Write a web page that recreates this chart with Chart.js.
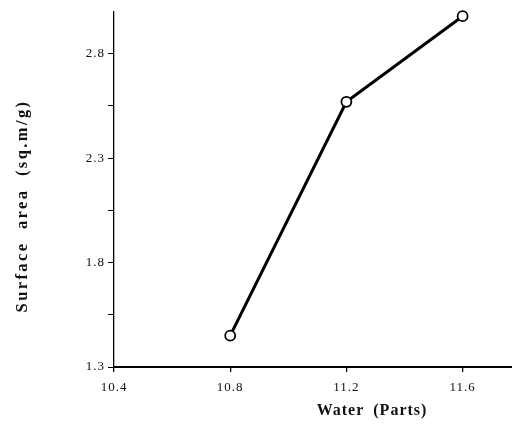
<!DOCTYPE html>
<html><head><meta charset="utf-8">
<script src="https://cdn.jsdelivr.net/npm/chart.js@4"></script>
<style>html,body{margin:0;padding:0;background:#fff}#wrap{width:512px;height:424px;position:relative}</style>
</head><body><div id="wrap"><canvas id="c"></canvas></div>
<script>
const waterParts = [10.8, 11.2, 11.6];
const surfaceArea = [1.45, 2.57, 2.98];
const xTickValues = [10.4, 10.8, 11.2, 11.6];
const yTickValues = [1.3, 1.8, 2.3, 2.8];
const yMinorTickValues = [1.55, 2.05, 2.55];
const xTitle = 'Water (Parts)';
const yTitle = 'Surface area (sq.m/g)';

const points = waterParts.map((x, i) => ({x: x, y: surfaceArea[i]}));
const serif = '"Liberation Serif", "DejaVu Serif", serif';

const titlePlugin = {
  id: 'axisTitles',
  beforeDraw(chart) {
    chart.ctx.letterSpacing = '1px';
  },
  afterDraw(chart) {
    const ctx = chart.ctx;
    ctx.save();
    ctx.fillStyle = '#111';
    ctx.font = 'bold 16px ' + serif;
    ctx.textAlign = 'center';
    ctx.textBaseline = 'middle';
    ctx.letterSpacing = '1px';
    ctx.wordSpacing = '4px';
    ctx.fillText(xTitle, 372, 411);
    ctx.translate(23, 206);
    ctx.rotate(-Math.PI / 2);
    ctx.font = 'bold 16.5px ' + serif;
    ctx.letterSpacing = '2.4px';
    ctx.wordSpacing = '6px';
    ctx.fillText(yTitle, 0, 0);
    ctx.restore();
    ctx.letterSpacing = '0px';
  }
};

new Chart(document.getElementById('c'), {
  type: 'scatter',
  data: {
    datasets: [{
      data: points,
      showLine: true,
      borderColor: '#000',
      borderWidth: 3,
      pointRadius: 5,
      pointBorderWidth: 1.8,
      pointBackgroundColor: '#fff',
      pointBorderColor: '#000',
      clip: false,
      tension: 0
    }]
  },
  options: {
    responsive: true,
    maintainAspectRatio: false,
    animation: false,
    layout: {autoPadding: false, padding: {top: 12, right: 0, left: 0, bottom: 0}},
    plugins: {legend: {display: false}, tooltip: {enabled: false}},
    scales: {
      x: {
        type: 'linear',
        min: 10.4,
        max: 11.77,
        afterBuildTicks: s => { s.ticks = xTickValues.map(v => ({value: v})); },
        afterFit: s => { s.height = 57; s.paddingRight = 0; s.paddingLeft = 0; },
        grid: {display: true, drawOnChartArea: false, drawTicks: true, tickLength: 5, color: '#000', lineWidth: 1.3},
        border: {display: true, color: '#000', width: 2},
        ticks: {
          color: '#111', padding: 8, maxRotation: 0, autoSkip: false,
          font: {family: serif, size: 13},
          callback: v => v.toFixed(1)
        },
        title: {display: false}
      },
      y: {
        type: 'linear',
        min: 1.3,
        max: 3.0,
        afterBuildTicks: s => { s.ticks = yTickValues.concat(yMinorTickValues).sort((a,b)=>a-b).map(v => ({value: v})); },
        afterFit: s => { s.width = 114; s.paddingTop = 0; s.paddingBottom = 0; },
        grid: {display: true, drawOnChartArea: false, drawTicks: true, tickLength: 6, color: '#000', lineWidth: 1},
        border: {display: true, color: '#000', width: 1.3},
        ticks: {
          color: '#111', padding: 3, autoSkip: false,
          font: {family: serif, size: 13},
          callback: v => yTickValues.some(t => Math.abs(t - v) < 1e-6) ? v.toFixed(1) : ''
        },
        title: {display: false}
      }
    }
  },
  plugins: [titlePlugin]
});
</script>
</body></html>
